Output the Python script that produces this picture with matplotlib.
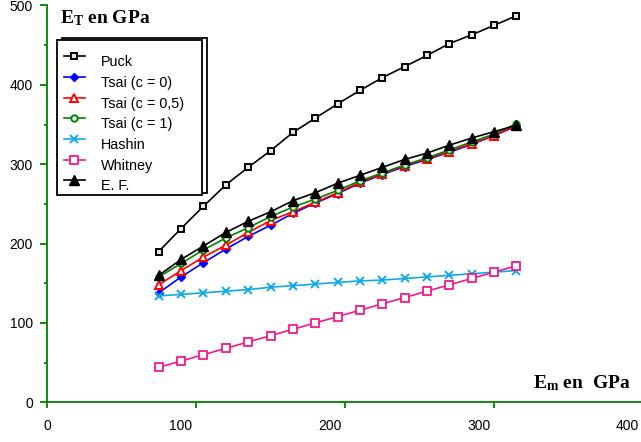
import matplotlib
matplotlib.use("Agg")
import matplotlib.pyplot as plt
from matplotlib.patches import Rectangle
from matplotlib.transforms import ScaledTranslation

plt.rcParams['font.family'] = ['Liberation Sans', 'DejaVu Sans']
plt.rcParams['mathtext.fontset'] = 'custom'
plt.rcParams['mathtext.rm'] = 'Liberation Serif:bold'
plt.rcParams['mathtext.it'] = 'Liberation Serif:bold'
plt.rcParams['mathtext.bf'] = 'Liberation Serif:bold'

# Em values (GPa)
em = [75, 90, 105, 120, 135, 150, 165, 180, 195, 210, 225, 240, 255, 270, 285, 300, 315]

puck = [190, 219, 247, 274, 296, 317, 340, 358, 376, 393, 409, 423, 437, 452, 463, 475, 487]
tsai_0 = [138, 158, 176, 193, 209, 223, 238, 251, 263, 276, 287, 297, 306, 315, 325, 336, 348]
tsai_05 = [148, 166, 183, 198, 214, 229, 240, 252, 264, 277, 288, 298, 307, 316, 326, 336, 349]
tsai_1 = [158, 175, 192, 207, 220, 234, 246, 256, 267, 279, 289, 299, 308, 318, 328, 338, 351]
hashin = [134, 136, 138, 140, 142, 145, 147, 149, 151, 153, 154, 156, 158, 160, 162, 164, 166]
whitney = [44, 52, 60, 68, 76, 84, 92, 100, 108, 116, 124, 132, 140, 148, 156, 164, 172]
ef = [160, 180, 197, 214, 228, 240, 254, 264, 276, 286, 296, 306, 314, 324, 333, 341, 349]

x_ticks = [0, 100, 200, 300, 400]
y_ticks = [0, 100, 200, 300, 400, 500]

axis_green = '#008000'

fig = plt.figure(figsize=(6.41, 4.42), dpi=100)
ax = fig.add_axes([47 / 641, 39.7 / 442, 596 / 641, 396.8 / 442])

ax.plot(em, puck, color='k', lw=1.2, marker='s', ms=4.8, mfc='#e6e6e6', mec='k', mew=1.4, label='Puck')
ax.plot(em, tsai_0, color='#0000ff', lw=1.2, marker='D', ms=4.2, mfc='#0000ff', mec='#0000ff', label='Tsai (c = 0)')
ax.plot(em, tsai_05, color='#ff0000', lw=1.2, marker='^', ms=6.2, mfc='white', mec='#ff0000', mew=1.4, label='Tsai (c = 0,5)')
ax.plot(em, tsai_1, color='#008000', lw=1.2, marker='o', ms=4.6, mfc='white', mec='#008000', mew=1.4, label='Tsai (c = 1)')
ax.plot(em, hashin, color='#12a8e6', lw=1.2, marker='x', ms=6, mew=1.4, label='Hashin')
ax.plot(em, whitney, color='#ee1c8c', lw=1.2, marker='s', ms=5.3, mfc='white', mec='#ee1c8c', mew=1.3, label='Whitney')
ax.plot(em, ef, color='k', lw=1.2, marker='^', ms=7, mfc='k', mec='k', label='E. F.')

ax.set_xlim(0, 400)
ax.set_ylim(0, 500)

for s in ['top', 'right']:
    ax.spines[s].set_visible(False)
for s in ['left', 'bottom']:
    ax.spines[s].set_color(axis_green)
    ax.spines[s].set_linewidth(1.3)

ax.set_yticks(y_ticks)
ax.set_yticks([50, 150, 250, 350, 450], minor=True)
ax.tick_params(axis='y', which='major', direction='out', length=5, width=1.3, color=axis_green, pad=5, labelsize=10)
ax.tick_params(axis='y', which='minor', direction='out', length=2.5, width=1.3, color=axis_green)

# x tick labels in the original sit a bit left of their ticks
ax.set_xticks(x_ticks)
ax.set_xticklabels([])
ax.tick_params(axis='x', which='major', direction='out', length=4, width=1.3, color=axis_green)
for i, v in enumerate(x_ticks):
    dx = 0 if i == 0 else -11
    ax.annotate(str(v), xy=(v, 0), xycoords=('data', 'axes fraction'),
                xytext=(dx, -12), textcoords='offset points',
                ha='center', va='top', fontsize=10, annotation_clip=False)

fig.text(60 / 641, 1 - 23 / 442, r'$\mathrm{E}_\mathrm{T}$ en GPa', fontsize=14,
         family='Liberation Serif', weight='bold', va='baseline')
fig.text(533 / 641, 1 - 388 / 442, r'$\mathrm{E}_\mathrm{m}$ en  GPa', fontsize=14,
         family='Liberation Serif', weight='bold', va='baseline')

leg = ax.legend(loc='upper left', bbox_to_anchor=((57 - 47) / 596, (402.3 - 44) / 396.8),
                fontsize=10.4, frameon=False, labelspacing=0.46,
                handlelength=1.5, handletextpad=1.1, borderpad=0.45, borderaxespad=0)
# labels sit a little below their keys in the original
shift = ScaledTranslation(0, -3.5 / 72, fig.dpi_scale_trans)
for t in leg.get_texts():
    t.set_transform(t.get_transform() + shift)

# legend box with its offset shadow (up and right)
fig.canvas.draw()
bb = leg.get_window_extent()
box_w, box_h = 145, 155
top = bb.y1 + 4
shadow = Rectangle((bb.x0 + 5, top - box_h + 2), box_w, box_h, transform=None,
                   facecolor='white', edgecolor='k', lw=1.3, zorder=4.8, clip_on=False)
box = Rectangle((bb.x0, top - box_h), box_w, box_h, transform=None,
                facecolor='white', edgecolor='k', lw=1.3, zorder=4.9, clip_on=False)
ax.add_artist(shadow)
ax.add_artist(box)

fig.savefig('out.png', dpi=100)
